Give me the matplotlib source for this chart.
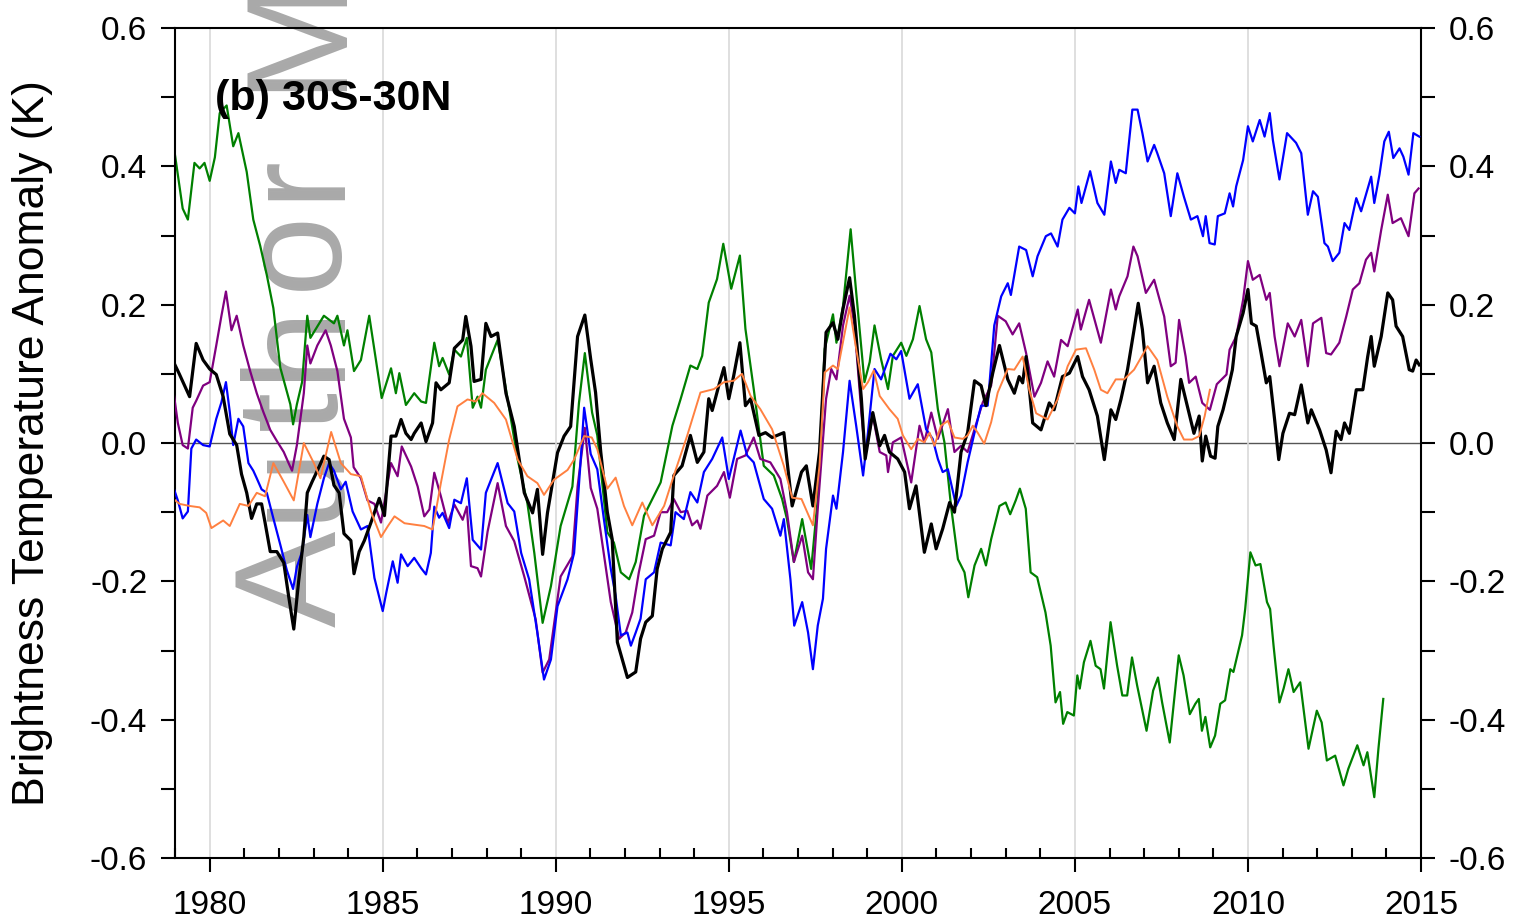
import numpy as np
import matplotlib
matplotlib.use("Agg")
import matplotlib.pyplot as plt
from matplotlib.ticker import MultipleLocator, FormatStrFormatter
from matplotlib.textpath import TextToPath
from matplotlib.font_manager import FontProperties

plt.rcParams['font.family'] = ['Liberation Sans', 'DejaVu Sans']
plt.rcParams['axes.unicode_minus'] = False

# brightness temperature anomaly series, 30S-30N (K)
black_t = [1978.93, 1979.13, 1979.42, 1979.61, 1979.81, 1980.0, 1980.19, 1980.39, 1980.58, 1980.78, 1980.92, 1981.07, 1981.21, 1981.36, 1981.5, 1981.6, 1981.75, 1981.94, 1982.14, 1982.28, 1982.43, 1982.57, 1982.72, 1982.82, 1982.96, 1983.11, 1983.3, 1983.45, 1983.59, 1983.74, 1983.88, 1984.08, 1984.17, 1984.32, 1984.47, 1984.66, 1984.9, 1985.05, 1985.24, 1985.38, 1985.53, 1985.67, 1985.82, 1985.91, 1986.11, 1986.25, 1986.44, 1986.54, 1986.68, 1986.92, 1987.07, 1987.31, 1987.4, 1987.55, 1987.64, 1987.84, 1987.98, 1988.13, 1988.32, 1988.56, 1988.8, 1989.09, 1989.33, 1989.47, 1989.62, 1989.76, 1990.05, 1990.24, 1990.43, 1990.63, 1990.84, 1991.01, 1991.15, 1991.3, 1991.49, 1991.63, 1991.78, 1992.07, 1992.31, 1992.45, 1992.6, 1992.79, 1992.93, 1993.08, 1993.32, 1993.41, 1993.65, 1993.89, 1994.09, 1994.28, 1994.42, 1994.52, 1994.71, 1994.86, 1995.0, 1995.14, 1995.32, 1995.48, 1995.63, 1995.87, 1996.06, 1996.25, 1996.59, 1996.83, 1997.1, 1997.24, 1997.43, 1997.62, 1997.81, 1998.01, 1998.15, 1998.3, 1998.49, 1998.63, 1998.83, 1998.94, 1999.16, 1999.36, 1999.5, 1999.64, 1999.88, 2000.08, 2000.22, 2000.41, 2000.65, 2000.85, 2000.99, 2001.18, 2001.38, 2001.52, 2001.71, 2001.9, 2002.1, 2002.29, 2002.43, 2002.63, 2002.82, 2003.06, 2003.25, 2003.39, 2003.49, 2003.59, 2003.78, 2004.02, 2004.26, 2004.4, 2004.64, 2004.84, 2005.08, 2005.22, 2005.41, 2005.65, 2005.85, 2006.04, 2006.18, 2006.33, 2006.52, 2006.71, 2006.83, 2006.95, 2007.1, 2007.29, 2007.48, 2007.67, 2007.87, 2008.06, 2008.25, 2008.44, 2008.59, 2008.68, 2008.78, 2008.92, 2009.05, 2009.13, 2009.28, 2009.42, 2009.55, 2009.66, 2009.86, 2010.0, 2010.1, 2010.24, 2010.38, 2010.53, 2010.63, 2010.77, 2010.89, 2011.01, 2011.2, 2011.35, 2011.54, 2011.73, 2011.83, 2012.07, 2012.26, 2012.4, 2012.55, 2012.69, 2012.79, 2012.93, 2013.13, 2013.32, 2013.46, 2013.56, 2013.65, 2013.85, 2014.04, 2014.18, 2014.28, 2014.47, 2014.66, 2014.76, 2014.86, 2014.95]
black_v = [0.12, 0.099, 0.067, 0.144, 0.12, 0.107, 0.099, 0.067, 0.013, -0.003, -0.045, -0.072, -0.109, -0.088, -0.088, -0.115, -0.157, -0.157, -0.173, -0.221, -0.269, -0.2, -0.136, -0.072, -0.056, -0.04, -0.019, -0.024, -0.061, -0.072, -0.131, -0.141, -0.189, -0.157, -0.141, -0.115, -0.08, -0.105, 0.01, 0.01, 0.034, 0.014, 0.005, 0.014, 0.029, 0.002, 0.029, 0.087, 0.077, 0.087, 0.137, 0.149, 0.183, 0.14, 0.089, 0.092, 0.173, 0.154, 0.159, 0.072, 0.024, -0.072, -0.101, -0.067, -0.161, -0.101, -0.014, 0.01, 0.024, 0.154, 0.185, 0.121, 0.073, -0.013, -0.1, -0.139, -0.288, -0.339, -0.331, -0.283, -0.259, -0.25, -0.182, -0.153, -0.129, -0.047, -0.033, 0.011, -0.028, -0.013, 0.064, 0.047, 0.083, 0.109, 0.064, 0.097, 0.145, 0.054, 0.064, 0.011, 0.015, 0.008, 0.015, -0.091, -0.042, -0.033, -0.091, -0.013, 0.16, 0.174, 0.15, 0.194, 0.239, 0.184, 0.064, -0.023, 0.044, -0.004, 0.011, -0.013, -0.023, -0.042, -0.095, -0.062, -0.158, -0.117, -0.153, -0.124, -0.086, -0.1, -0.013, 0.015, 0.09, 0.083, 0.054, 0.102, 0.141, 0.092, 0.072, 0.096, 0.087, 0.125, 0.029, 0.019, 0.058, 0.048, 0.096, 0.101, 0.125, 0.096, 0.077, 0.039, -0.024, 0.048, 0.034, 0.063, 0.106, 0.164, 0.202, 0.164, 0.087, 0.111, 0.058, 0.029, 0.005, 0.092, 0.053, 0.014, 0.039, -0.026, 0.01, -0.019, -0.022, 0.024, 0.048, 0.077, 0.106, 0.154, 0.188, 0.222, 0.173, 0.169, 0.13, 0.087, 0.096, 0.034, -0.024, 0.014, 0.043, 0.041, 0.084, 0.029, 0.048, 0.019, -0.01, -0.043, 0.017, 0.005, 0.029, 0.014, 0.077, 0.077, 0.125, 0.154, 0.111, 0.154, 0.217, 0.207, 0.169, 0.154, 0.106, 0.104, 0.12, 0.113]

green_t = [1978.93, 1979.22, 1979.37, 1979.56, 1979.71, 1979.85, 1980.0, 1980.15, 1980.29, 1980.49, 1980.68, 1980.83, 1981.07, 1981.26, 1981.46, 1981.65, 1981.84, 1982.04, 1982.33, 1982.41, 1982.52, 1982.67, 1982.82, 1982.91, 1983.3, 1983.59, 1983.69, 1983.88, 1983.98, 1984.17, 1984.37, 1984.61, 1984.85, 1984.97, 1985.24, 1985.38, 1985.48, 1985.67, 1985.91, 1986.11, 1986.25, 1986.49, 1986.63, 1986.73, 1986.92, 1987.07, 1987.26, 1987.43, 1987.6, 1987.74, 1987.84, 1987.98, 1988.32, 1988.61, 1988.9, 1989.18, 1989.38, 1989.62, 1989.86, 1990.14, 1990.48, 1990.67, 1990.84, 1991.05, 1991.2, 1991.49, 1991.68, 1991.88, 1992.12, 1992.31, 1992.55, 1992.74, 1993.03, 1993.37, 1993.61, 1993.89, 1994.09, 1994.23, 1994.42, 1994.66, 1994.84, 1995.07, 1995.32, 1995.48, 1995.72, 1996.01, 1996.3, 1996.54, 1996.68, 1996.88, 1997.12, 1997.38, 1997.57, 1997.77, 1998.01, 1998.11, 1998.3, 1998.52, 1998.68, 1998.92, 1999.07, 1999.21, 1999.4, 1999.6, 1999.74, 1999.98, 2000.13, 2000.32, 2000.51, 2000.7, 2000.85, 2001.04, 2001.23, 2001.42, 2001.62, 2001.81, 2001.92, 2002.1, 2002.29, 2002.43, 2002.58, 2002.82, 2003.0, 2003.13, 2003.29, 2003.41, 2003.58, 2003.72, 2003.91, 2004.15, 2004.3, 2004.44, 2004.57, 2004.66, 2004.78, 2004.97, 2005.07, 2005.14, 2005.26, 2005.45, 2005.6, 2005.74, 2005.84, 2006.03, 2006.22, 2006.37, 2006.51, 2006.65, 2006.8, 2007.07, 2007.26, 2007.4, 2007.52, 2007.74, 2008.0, 2008.14, 2008.32, 2008.48, 2008.58, 2008.67, 2008.77, 2008.91, 2009.05, 2009.2, 2009.34, 2009.49, 2009.58, 2009.83, 2009.92, 2010.07, 2010.22, 2010.36, 2010.55, 2010.64, 2010.74, 2010.91, 2011.03, 2011.17, 2011.32, 2011.51, 2011.75, 2011.99, 2012.13, 2012.28, 2012.52, 2012.76, 2012.9, 2013.16, 2013.34, 2013.45, 2013.65, 2013.77, 2013.91]
green_v = [0.44, 0.339, 0.323, 0.405, 0.397, 0.405, 0.379, 0.413, 0.477, 0.488, 0.429, 0.448, 0.392, 0.323, 0.285, 0.243, 0.195, 0.109, 0.056, 0.027, 0.056, 0.088, 0.184, 0.152, 0.184, 0.173, 0.184, 0.141, 0.163, 0.104, 0.12, 0.184, 0.104, 0.065, 0.108, 0.072, 0.101, 0.055, 0.072, 0.06, 0.058, 0.145, 0.111, 0.123, 0.099, 0.135, 0.125, 0.152, 0.051, 0.067, 0.051, 0.106, 0.149, 0.063, -0.024, -0.087, -0.159, -0.26, -0.207, -0.12, -0.063, 0.058, 0.13, 0.044, 0.011, -0.129, -0.144, -0.187, -0.197, -0.172, -0.105, -0.086, -0.057, 0.025, 0.064, 0.112, 0.107, 0.126, 0.203, 0.237, 0.288, 0.223, 0.271, 0.165, 0.078, -0.033, -0.047, -0.081, -0.11, -0.172, -0.11, -0.182, -0.081, 0.136, 0.186, 0.145, 0.198, 0.309, 0.218, 0.088, 0.117, 0.17, 0.121, 0.078, 0.126, 0.145, 0.126, 0.15, 0.198, 0.15, 0.131, 0.049, 0.001, -0.091, -0.168, -0.187, -0.223, -0.177, -0.153, -0.177, -0.139, -0.091, -0.086, -0.103, -0.083, -0.066, -0.095, -0.187, -0.194, -0.245, -0.293, -0.375, -0.36, -0.406, -0.389, -0.394, -0.336, -0.355, -0.317, -0.286, -0.322, -0.327, -0.355, -0.259, -0.322, -0.365, -0.365, -0.31, -0.351, -0.416, -0.358, -0.339, -0.375, -0.433, -0.307, -0.336, -0.392, -0.377, -0.37, -0.416, -0.396, -0.44, -0.423, -0.377, -0.372, -0.327, -0.331, -0.278, -0.24, -0.158, -0.177, -0.175, -0.23, -0.24, -0.293, -0.375, -0.355, -0.327, -0.36, -0.346, -0.442, -0.387, -0.404, -0.459, -0.452, -0.495, -0.471, -0.437, -0.466, -0.447, -0.512, -0.442, -0.37]

orange_t = [1978.93, 1979.13, 1979.42, 1979.71, 1979.9, 1980.05, 1980.39, 1980.58, 1980.87, 1981.12, 1981.36, 1981.6, 1981.84, 1982.14, 1982.43, 1982.72, 1983.01, 1983.2, 1983.51, 1983.79, 1984.08, 1984.37, 1984.66, 1984.95, 1985.15, 1985.34, 1985.63, 1985.91, 1986.2, 1986.44, 1986.68, 1986.92, 1987.16, 1987.45, 1987.69, 1987.88, 1988.22, 1988.56, 1988.9, 1989.18, 1989.47, 1989.66, 1989.95, 1990.34, 1990.53, 1990.82, 1991.04, 1991.2, 1991.49, 1991.73, 1991.97, 1992.21, 1992.5, 1992.79, 1993.13, 1993.41, 1993.8, 1994.18, 1994.57, 1994.86, 1995.14, 1995.38, 1995.63, 1995.91, 1996.25, 1996.59, 1996.83, 1997.1, 1997.43, 1997.62, 1997.77, 1998.01, 1998.15, 1998.49, 1998.68, 1998.88, 1999.02, 1999.19, 1999.36, 1999.64, 1999.88, 2000.03, 2000.27, 2000.46, 2000.65, 2000.8, 2000.94, 2001.13, 2001.33, 2001.52, 2001.76, 2001.9, 2002.05, 2002.19, 2002.38, 2002.58, 2002.77, 2003.06, 2003.25, 2003.49, 2003.68, 2003.88, 2004.21, 2004.5, 2004.79, 2005.03, 2005.32, 2005.56, 2005.75, 2005.94, 2006.18, 2006.42, 2006.71, 2007.1, 2007.38, 2007.67, 2007.96, 2008.15, 2008.39, 2008.59, 2008.75, 2008.9]
orange_v = [-0.08, -0.088, -0.091, -0.093, -0.101, -0.123, -0.112, -0.12, -0.088, -0.091, -0.072, -0.077, -0.029, -0.056, -0.083, 0.0, -0.029, -0.051, 0.016, -0.029, -0.045, -0.048, -0.099, -0.136, -0.12, -0.106, -0.116, -0.118, -0.12, -0.125, -0.058, 0.005, 0.053, 0.063, 0.06, 0.072, 0.058, 0.034, -0.024, -0.048, -0.058, -0.075, -0.053, -0.039, -0.024, 0.01, 0.008, -0.009, -0.066, -0.05, -0.091, -0.119, -0.086, -0.119, -0.091, -0.047, 0.011, 0.073, 0.078, 0.088, 0.09, 0.1, 0.068, 0.049, 0.02, -0.033, -0.079, -0.081, -0.119, -0.033, 0.102, 0.112, 0.107, 0.196, 0.136, 0.078, 0.088, 0.105, 0.068, 0.049, 0.035, 0.011, -0.009, 0.006, 0.001, 0.015, -0.004, 0.025, 0.032, 0.008, 0.006, 0.011, 0.025, 0.015, -0.001, 0.03, 0.073, 0.107, 0.106, 0.125, 0.077, 0.043, 0.034, 0.063, 0.111, 0.135, 0.137, 0.106, 0.077, 0.072, 0.092, 0.092, 0.106, 0.14, 0.12, 0.067, 0.024, 0.005, 0.005, 0.01, 0.039, 0.077]

blue_t = [1978.93, 1979.08, 1979.22, 1979.37, 1979.47, 1979.61, 1979.81, 1980.0, 1980.19, 1980.34, 1980.47, 1980.58, 1980.68, 1980.83, 1980.97, 1981.12, 1981.26, 1981.36, 1981.5, 1981.65, 1981.84, 1982.04, 1982.23, 1982.41, 1982.52, 1982.67, 1982.82, 1982.91, 1983.11, 1983.3, 1983.45, 1983.59, 1983.79, 1983.93, 1984.13, 1984.37, 1984.56, 1984.76, 1985.0, 1985.1, 1985.29, 1985.43, 1985.53, 1985.72, 1985.91, 1986.11, 1986.25, 1986.39, 1986.49, 1986.63, 1986.73, 1986.92, 1987.07, 1987.26, 1987.43, 1987.6, 1987.84, 1987.98, 1988.32, 1988.61, 1988.8, 1989.0, 1989.23, 1989.47, 1989.66, 1989.86, 1990.05, 1990.34, 1990.53, 1990.7, 1990.82, 1991.01, 1991.2, 1991.39, 1991.59, 1991.73, 1991.88, 1992.07, 1992.17, 1992.31, 1992.45, 1992.6, 1992.84, 1993.03, 1993.32, 1993.46, 1993.7, 1993.89, 1994.09, 1994.28, 1994.52, 1994.81, 1995.0, 1995.14, 1995.34, 1995.53, 1995.72, 1996.01, 1996.25, 1996.49, 1996.59, 1996.78, 1996.89, 1997.12, 1997.29, 1997.43, 1997.57, 1997.72, 1997.81, 1998.01, 1998.11, 1998.3, 1998.49, 1998.68, 1998.88, 1999.02, 1999.21, 1999.4, 1999.67, 1999.84, 1999.98, 2000.22, 2000.46, 2000.7, 2000.89, 2001.04, 2001.18, 2001.33, 2001.57, 2001.71, 2001.9, 2002.1, 2002.29, 2002.48, 2002.67, 2002.87, 2003.06, 2003.15, 2003.39, 2003.59, 2003.78, 2003.92, 2004.16, 2004.31, 2004.5, 2004.64, 2004.84, 2005.0, 2005.1, 2005.19, 2005.44, 2005.65, 2005.85, 2006.04, 2006.18, 2006.28, 2006.47, 2006.66, 2006.81, 2006.95, 2007.1, 2007.29, 2007.38, 2007.58, 2007.77, 2007.96, 2008.15, 2008.35, 2008.54, 2008.7, 2008.78, 2008.89, 2009.04, 2009.13, 2009.33, 2009.47, 2009.57, 2009.66, 2009.86, 2010.0, 2010.14, 2010.34, 2010.48, 2010.63, 2010.72, 2010.91, 2011.13, 2011.39, 2011.54, 2011.73, 2011.88, 2012.02, 2012.21, 2012.31, 2012.45, 2012.64, 2012.79, 2012.93, 2013.13, 2013.27, 2013.46, 2013.56, 2013.65, 2013.8, 2013.94, 2014.07, 2014.2, 2014.38, 2014.49, 2014.64, 2014.78, 2014.95]
blue_v = [-0.061, -0.083, -0.109, -0.099, -0.008, 0.005, -0.003, -0.005, 0.035, 0.059, 0.088, 0.045, -0.003, 0.035, 0.024, -0.029, -0.04, -0.051, -0.067, -0.072, -0.109, -0.147, -0.184, -0.211, -0.179, -0.157, -0.104, -0.136, -0.088, -0.051, -0.029, -0.04, -0.067, -0.056, -0.099, -0.125, -0.12, -0.195, -0.243, -0.217, -0.171, -0.202, -0.161, -0.178, -0.166, -0.181, -0.19, -0.159, -0.092, -0.108, -0.101, -0.123, -0.082, -0.087, -0.051, -0.14, -0.154, -0.072, -0.029, -0.087, -0.099, -0.159, -0.197, -0.275, -0.342, -0.313, -0.236, -0.197, -0.159, -0.039, 0.051, -0.016, -0.038, -0.11, -0.182, -0.221, -0.278, -0.274, -0.293, -0.274, -0.254, -0.197, -0.187, -0.144, -0.148, -0.1, -0.11, -0.071, -0.086, -0.042, -0.023, 0.008, -0.052, -0.023, 0.018, -0.018, -0.028, -0.081, -0.095, -0.134, -0.11, -0.197, -0.264, -0.23, -0.274, -0.327, -0.264, -0.225, -0.153, -0.076, -0.095, -0.013, 0.09, 0.025, -0.047, 0.015, 0.107, 0.092, 0.129, 0.121, 0.133, 0.064, 0.085, 0.02, 0.006, -0.023, -0.042, -0.038, -0.091, -0.076, -0.028, 0.015, 0.054, 0.054, 0.17, 0.212, 0.231, 0.214, 0.284, 0.279, 0.241, 0.27, 0.299, 0.303, 0.284, 0.323, 0.34, 0.332, 0.371, 0.347, 0.393, 0.347, 0.33, 0.407, 0.376, 0.395, 0.39, 0.482, 0.482, 0.448, 0.407, 0.431, 0.419, 0.39, 0.328, 0.39, 0.356, 0.323, 0.328, 0.299, 0.328, 0.289, 0.287, 0.328, 0.332, 0.361, 0.342, 0.371, 0.409, 0.458, 0.436, 0.467, 0.443, 0.477, 0.438, 0.381, 0.448, 0.434, 0.419, 0.33, 0.364, 0.356, 0.289, 0.284, 0.263, 0.275, 0.318, 0.308, 0.354, 0.335, 0.368, 0.385, 0.347, 0.388, 0.436, 0.45, 0.412, 0.426, 0.414, 0.388, 0.448, 0.443]

purple_t = [1978.93, 1979.08, 1979.22, 1979.37, 1979.51, 1979.61, 1979.81, 1980.0, 1980.19, 1980.34, 1980.47, 1980.63, 1980.78, 1980.97, 1981.17, 1981.36, 1981.55, 1981.75, 1981.94, 1982.14, 1982.28, 1982.38, 1982.52, 1982.72, 1982.82, 1982.91, 1983.11, 1983.35, 1983.5, 1983.69, 1983.88, 1984.08, 1984.16, 1984.37, 1984.56, 1984.76, 1984.95, 1985.24, 1985.43, 1985.55, 1985.82, 1986.01, 1986.2, 1986.35, 1986.49, 1986.68, 1986.88, 1987.07, 1987.31, 1987.43, 1987.55, 1987.74, 1987.84, 1988.03, 1988.32, 1988.56, 1988.8, 1989.09, 1989.42, 1989.62, 1989.81, 1990.14, 1990.48, 1990.63, 1990.84, 1991.01, 1991.2, 1991.45, 1991.59, 1991.83, 1992.02, 1992.21, 1992.4, 1992.6, 1992.84, 1993.03, 1993.22, 1993.41, 1993.61, 1993.8, 1993.94, 1994.09, 1994.18, 1994.38, 1994.66, 1994.86, 1995.03, 1995.24, 1995.48, 1995.72, 1995.91, 1996.2, 1996.49, 1996.68, 1996.88, 1997.12, 1997.29, 1997.43, 1997.57, 1997.81, 1997.96, 1998.11, 1998.3, 1998.49, 1998.63, 1998.83, 1998.94, 1999.16, 1999.36, 1999.55, 1999.6, 1999.74, 1999.98, 2000.27, 2000.51, 2000.65, 2000.85, 2001.04, 2001.33, 2001.52, 2001.71, 2001.9, 2002.1, 2002.34, 2002.58, 2002.77, 2003.0, 2003.2, 2003.39, 2003.59, 2003.83, 2004.02, 2004.21, 2004.4, 2004.6, 2004.79, 2005.08, 2005.17, 2005.41, 2005.75, 2006.04, 2006.18, 2006.28, 2006.52, 2006.69, 2006.81, 2007.05, 2007.29, 2007.58, 2007.77, 2007.91, 2008.01, 2008.2, 2008.3, 2008.49, 2008.68, 2008.9, 2009.1, 2009.38, 2009.47, 2009.66, 2009.86, 2010.0, 2010.14, 2010.34, 2010.53, 2010.63, 2010.77, 2010.91, 2011.15, 2011.35, 2011.54, 2011.73, 2011.88, 2012.12, 2012.26, 2012.4, 2012.64, 2012.84, 2013.03, 2013.22, 2013.41, 2013.56, 2013.65, 2013.85, 2014.04, 2014.18, 2014.42, 2014.64, 2014.81, 2014.93]
purple_v = [0.083, 0.029, -0.003, -0.008, 0.051, 0.061, 0.083, 0.088, 0.141, 0.184, 0.219, 0.163, 0.184, 0.141, 0.104, 0.072, 0.045, 0.019, 0.003, -0.013, -0.029, -0.04, -0.003, 0.072, 0.141, 0.115, 0.141, 0.163, 0.141, 0.104, 0.035, 0.008, -0.035, -0.051, -0.083, -0.088, -0.115, -0.029, -0.048, -0.005, -0.034, -0.063, -0.106, -0.096, -0.043, -0.077, -0.116, -0.089, -0.111, -0.092, -0.178, -0.181, -0.193, -0.128, -0.058, -0.12, -0.142, -0.193, -0.255, -0.332, -0.313, -0.193, -0.164, -0.063, 0.022, -0.065, -0.095, -0.182, -0.23, -0.283, -0.274, -0.245, -0.187, -0.139, -0.134, -0.1, -0.1, -0.081, -0.1, -0.098, -0.119, -0.112, -0.124, -0.076, -0.062, -0.042, -0.079, -0.023, -0.018, 0.008, -0.023, -0.028, -0.052, -0.1, -0.172, -0.134, -0.187, -0.197, -0.095, 0.064, 0.107, 0.092, 0.17, 0.213, 0.17, 0.044, -0.018, 0.04, -0.013, -0.018, -0.042, 0.001, 0.008, -0.057, 0.025, 0.001, 0.044, 0.006, 0.049, -0.013, -0.004, -0.013, 0.02, 0.059, 0.083, 0.184, 0.176, 0.157, 0.173, 0.13, 0.067, 0.087, 0.118, 0.096, 0.149, 0.14, 0.193, 0.164, 0.207, 0.145, 0.222, 0.193, 0.212, 0.241, 0.284, 0.27, 0.217, 0.236, 0.183, 0.111, 0.116, 0.178, 0.125, 0.087, 0.096, 0.058, 0.048, 0.085, 0.099, 0.135, 0.154, 0.207, 0.263, 0.236, 0.243, 0.207, 0.217, 0.154, 0.111, 0.173, 0.154, 0.178, 0.111, 0.173, 0.181, 0.13, 0.128, 0.145, 0.183, 0.222, 0.231, 0.265, 0.275, 0.248, 0.308, 0.359, 0.318, 0.325, 0.299, 0.361, 0.368]

W, H, DPI = 1525, 924, 100
fig = plt.figure(figsize=(W / DPI, H / DPI), dpi=DPI)
ax = fig.add_axes([0.1148, 0.0714, 0.8170, 0.8983])
ax.patch.set_alpha(0)

# grey manuscript stamp behind the curves, letters spaced out along the baseline;
# only the part that lands on the canvas is drawn
stamp = "Author Manuscript"
stamp_size = 104
stamp_gap = 10          # extra spacing between letters, px
prop = FontProperties(family='Liberation Sans', size=stamp_size)
ttp = TextToPath()
base_x, y_px = 336, H - 627
for ch in stamp:
    if y_px >= H:
        break
    if ch != ' ':
        fig.text(base_x / W, y_px / H, ch, rotation=90, rotation_mode='anchor',
                 ha='left', va='baseline', fontsize=stamp_size, color='#a9a9a9',
                 family='Liberation Sans', zorder=-1)
    w_pt = ttp.get_text_width_height_descent(ch if ch != ' ' else 'r', prop, ismath=False)[0]
    y_px += w_pt * DPI / 72 * (0.85 if ch == ' ' else 1.0) + stamp_gap

ax.grid(axis='x', which='major', color='#d9d9d9', linewidth=1.2, zorder=0)
ax.axhline(0, color='#555555', linewidth=1.0, zorder=1)

ax.plot(green_t, green_v, color='#008000', lw=1.6, zorder=2)
ax.plot(purple_t, purple_v, color='#800080', lw=1.6, zorder=3)
ax.plot(blue_t, blue_v, color='#0000ff', lw=1.6, zorder=4)
ax.plot(black_t, black_v, color='black', lw=2.3, zorder=5)
ax.plot(orange_t, orange_v, color='#ff8040', lw=1.4, zorder=6)

ax.set_xlim(1979, 2015)
ax.set_ylim(-0.6, 0.6)
ax.set_xticks(range(1980, 2016, 5))
ax.xaxis.set_minor_locator(MultipleLocator(1))
ax.set_yticks(np.arange(-0.6, 0.61, 0.2))
ax.yaxis.set_minor_locator(MultipleLocator(0.1))
ax.yaxis.set_major_formatter(FormatStrFormatter('%.1f'))

ax.tick_params(axis='x', which='major', direction='out', length=10, width=1.5,
               top=False, labelsize=24, pad=13)
ax.tick_params(axis='x', which='minor', direction='in', length=7, width=1.5, top=False)
ax.tick_params(axis='y', which='both', direction='out', length=10, width=1.5,
               left=True, right=True, labelleft=True, labelright=True,
               labelsize=24, pad=10)
for s in ax.spines.values():
    s.set_linewidth(1.5)

fig.text(0.021, 0.52, "Brightness Temperature Anomaly (K)", rotation=90,
         ha='center', va='center', fontsize=32)
ax.text(0.032, 0.914, "(b) 30S-30N", transform=ax.transAxes, ha='left', va='center',
        fontsize=31, fontweight='bold', zorder=7)

fig.savefig("out.png", dpi=DPI)
